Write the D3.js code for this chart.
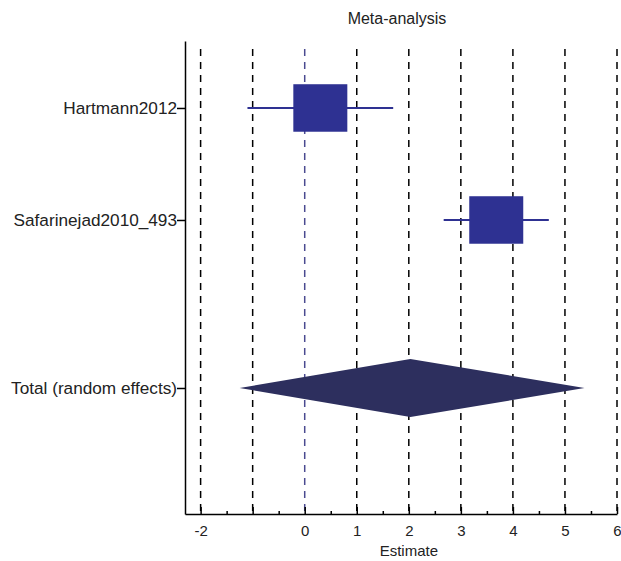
<!DOCTYPE html>
<html>
<head>
<meta charset="utf-8">
<script src="https://cdn.jsdelivr.net/npm/d3@7"></script>
<style>
  body { margin: 0; background: #fff; }
  svg { display: block; font-family: "Liberation Sans", Arial, sans-serif; }
</style>
</head>
<body>
<svg id="chart" width="621" height="561"></svg>
<script>
// study rows
var studies = ["Hartmann2012", "Safarinejad2010_493"];
var estimates = [0.30, 3.68];
var lowerCI = [-1.10, 2.67];
var upperCI = [1.70, 4.69];
var weights = [50.0, 50.0];

// pooled row
var totalLabel = "Total (random effects)";
var totalEstimate = 2.03;
var totalLower = -1.25;
var totalUpper = 5.375;

// row index of each label (blank row before the total)
var rowIndex = [0, 1, 2.5];

var xTicks = [-2, -1, 0, 1, 2, 3, 4, 5, 6];
var xMinorTicks = [-1.5, -0.5, 0.5, 1.5, 2.5, 3.5, 4.5, 5.5];
var xTickLabels = ["-2", "", "0", "1", "2", "3", "4", "5", "6"];

var title = "Meta-analysis";
var xTitle = "Estimate";

var svg = d3.select("#chart");

var plotLeft = 185, plotRight = 617, plotTop = 41, plotBottom = 514;

var x = d3.scaleLinear().domain([-2.3, 6]).range([plotLeft, plotRight]);
var y = d3.scaleLinear().domain([-0.598, 3.625]).range([plotTop, plotBottom]);

var squareColor = "#2e3192";
var diamondColor = "#2d2f5e";

// vertical dashed grid
svg.append("g")
	.selectAll("line")
	.data(xTicks)
	.join("line")
	.attr("x1", function(d) { return x(d); })
	.attr("x2", function(d) { return x(d); })
	.attr("y1", plotTop + 8)
	.attr("y2", plotBottom - 2)
	.attr("stroke", function(d) { return d == 0 ? "#4a4a90" : "#000"; })
	.attr("stroke-width", 1.5)
	.attr("stroke-dasharray", "7,6");

// whiskers
var rows = svg.append("g");
rows.selectAll("line")
	.data(studies)
	.join("line")
	.attr("x1", function(d, i) { return x(lowerCI[i]); })
	.attr("x2", function(d, i) { return x(upperCI[i]); })
	.attr("y1", function(d, i) { return y(rowIndex[i]); })
	.attr("y2", function(d, i) { return y(rowIndex[i]); })
	.attr("stroke", squareColor)
	.attr("stroke-width", 2);

// squares, size from weight
rows.selectAll("rect")
	.data(studies)
	.join("rect")
	.attr("x", function(d, i) { return x(estimates[i]) - weights[i] * 0.54; })
	.attr("y", function(d, i) { return y(rowIndex[i]) - weights[i] * 0.475; })
	.attr("width", function(d, i) { return weights[i] * 1.08; })
	.attr("height", function(d, i) { return weights[i] * 0.95; })
	.attr("fill", squareColor);

// pooled diamond
var ty = y(rowIndex[2]);
var dh = 29;
svg.append("path")
	.attr("d", d3.line()([
		[x(totalLower), ty],
		[x(totalEstimate), ty - dh],
		[x(totalUpper), ty],
		[x(totalEstimate), ty + dh]
	]) + "Z")
	.attr("fill", diamondColor);

// x axis
var xAxis = d3.axisBottom(x)
	.tickValues(xTicks)
	.tickFormat(function(d, i) { return xTickLabels[i]; })
	.tickSizeInner(-7)
	.tickSizeOuter(0)
	.tickPadding(11);

var gx = svg.append("g")
	.attr("transform", "translate(0," + plotBottom + ")")
	.call(xAxis);
gx.selectAll("text").attr("font-size", 15).attr("fill", "#222").attr("font-family", null);
gx.selectAll("line, path").attr("stroke", "#000").attr("stroke-width", 1.5);

svg.append("g")
	.attr("transform", "translate(0," + plotBottom + ")")
	.call(d3.axisBottom(x).tickValues(xMinorTicks).tickFormat("").tickSizeInner(-3).tickSizeOuter(0))
	.call(function(g) { g.select(".domain").remove(); })
	.selectAll("line").attr("stroke", "#000").attr("stroke-width", 1.5);

svg.append("text")
	.attr("x", x(2))
	.attr("y", 556)
	.attr("text-anchor", "middle")
	.attr("font-size", 15)
	.attr("fill", "#222")
	.text(xTitle);

// y axis
var labels = studies.concat([totalLabel]);
var yAxis = d3.axisLeft(y)
	.tickValues(rowIndex)
	.tickFormat(function(d, i) { return labels[i]; })
	.tickSizeInner(8)
	.tickSizeOuter(0)
	.tickPadding(0);

var gy = svg.append("g")
	.attr("transform", "translate(" + plotLeft + ",0)")
	.call(yAxis);
gy.selectAll("text").attr("font-size", 17.2).attr("fill", "#222").attr("font-family", null);
gy.selectAll("line, path").attr("stroke", "#000").attr("stroke-width", 1.5);

svg.append("text")
	.attr("x", 397)
	.attr("y", 24)
	.attr("text-anchor", "middle")
	.attr("font-size", 16)
	.attr("fill", "#222")
	.text(title);
</script>
</body>
</html>
